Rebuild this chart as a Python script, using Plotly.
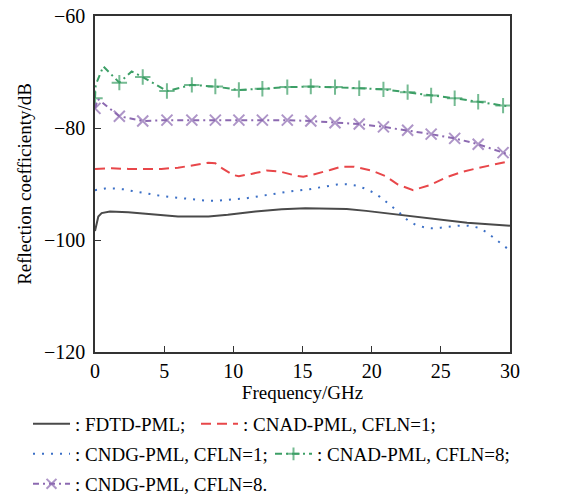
import plotly.graph_objects as go

# ---------------- data ----------------
fdtd_x = [0, 0.07, 0.24, 0.48, 1.08, 2.4, 4.3, 6.0, 8.2, 9.6, 11.6, 13.5, 15.2, 18.2, 19.6, 22.05, 24.5, 26.9, 30]
fdtd_y = [-98.4, -97.6, -95.8, -95.2, -94.9, -95.05, -95.5, -95.8, -95.8, -95.5, -94.9, -94.5, -94.35, -94.45, -94.8, -95.5, -96.3, -96.9, -97.45]

cnad1_x = [0, 1.2, 2.4, 4.8, 6.0, 7.1, 8.2, 8.7, 9.2, 10.0, 10.4, 11.3, 12.4, 13.4, 14.5, 15.06, 15.8, 17.0, 17.8, 18.7, 20.0, 21.0, 21.9, 23.0, 24.2, 25.4, 26.6, 27.6, 28.8, 30]
cnad1_y = [-87.3, -87.2, -87.3, -87.3, -87.1, -86.6, -86.2, -86.3, -87.2, -88.4, -88.6, -88.2, -87.6, -87.8, -88.5, -88.7, -88.3, -87.5, -86.9, -86.9, -87.6, -88.6, -90.1, -91.1, -90.2, -88.8, -87.8, -87.2, -86.5, -85.9]

cndg1_x = [0, 0.72, 1.4, 2.05, 2.7, 3.37, 4.05, 4.7, 5.4, 6.07, 6.75, 7.4, 8.1, 8.77, 9.45, 10.1, 10.8, 11.5, 12.2, 12.85, 13.5, 14.2, 14.9, 15.5, 16.15, 16.9, 17.5, 18.2, 18.9, 19.5, 20.1, 20.6, 21.1, 21.6, 22.2, 22.65, 23.2, 23.9, 24.3, 25.0, 25.7, 26.3, 27.0, 27.7, 28.3, 28.8, 29.3, 29.85]
cndg1_y = [-91.1, -90.8, -90.8, -90.95, -91.25, -91.55, -91.8, -92.1, -92.3, -92.5, -92.7, -92.85, -93.0, -93.0, -92.8, -92.7, -92.6, -92.3, -92.1, -91.8, -91.55, -91.3, -91.15, -90.95, -90.65, -90.3, -90.1, -90.05, -90.3, -90.8, -91.5, -92.3, -93.3, -94.3, -95.5, -96.6, -97.3, -97.8, -97.9, -97.8, -97.6, -97.45, -97.45, -97.8, -98.6, -99.6, -100.6, -101.6]

cnad8_x = [0, 0.05, 0.6, 1.76, 2.65, 3.45, 5.2, 7.0, 8.7, 10.4, 12.1, 13.9, 15.6, 17.35, 19.1, 20.85, 22.6, 24.3, 26.0, 27.7, 29.5, 30]
cnad8_y = [-74.7, -72.3, -69.0, -71.9, -69.9, -70.9, -73.4, -72.3, -72.6, -73.2, -73.0, -72.7, -72.6, -72.7, -72.9, -73.1, -73.6, -74.2, -74.7, -75.3, -76.0, -76.2]
cnad8_marked = [1, 0, 0, 1, 0, 1, 1, 1, 1, 1, 1, 1, 1, 1, 1, 1, 1, 1, 1, 1, 1, 0]

cndg8_x = [0, 0.2, 1.76, 3.45, 5.2, 7.0, 8.7, 10.4, 12.1, 13.9, 15.6, 17.35, 19.1, 20.85, 22.6, 24.3, 26.0, 27.7, 29.5, 30]
cndg8_y = [-76.5, -74.8, -77.9, -78.75, -78.6, -78.6, -78.6, -78.6, -78.6, -78.6, -78.75, -79.05, -79.3, -79.8, -80.4, -81.1, -81.85, -82.9, -84.4, -84.8]
cndg8_marked = [1, 0, 1, 1, 1, 1, 1, 1, 1, 1, 1, 1, 1, 1, 1, 1, 1, 1, 1, 0]

names = [": FDTD-PML;", ": CNAD-PML, CFLN=1;", ": CNDG-PML, CFLN=1;",
         ": CNAD-PML, CFLN=8;", ": CNDG-PML, CFLN=8."]

x_ticks = [0, 5, 10, 15, 20, 25, 30]
y_ticks = [-120, -100, -80, -60]

FONT = "Liberation Serif"
C_BLACK = "#4a4a4a"
C_RED = "#e8474a"
C_BLUE = "#3b6fc6"
C_GREEN = "#3c9f66"
C_PURPLE = "#8c69b1"
MS = 11

fig = go.Figure()

fig.add_trace(go.Scatter(x=fdtd_x, y=fdtd_y, mode="lines", name=names[0],
                         line=dict(color=C_BLACK, width=2),
                         legend="legend"))
fig.add_trace(go.Scatter(x=cnad1_x, y=cnad1_y, mode="lines", name=names[1],
                         line=dict(color=C_RED, width=2, dash="10px,6px"),
                         legend="legend2"))
fig.add_trace(go.Scatter(x=cndg1_x, y=cndg1_y, mode="lines", name=names[2],
                         line=dict(color=C_BLUE, width=2, dash="2px,7px"),
                         legend="legend3"))
fig.add_trace(go.Scatter(x=cnad8_x, y=cnad8_y, mode="lines+markers", name=names[3],
                         line=dict(color=C_GREEN, width=2, dash="7px,4px,2px,4px"),
                         marker=dict(symbol="cross-thin", size=[MS * m for m in cnad8_marked],
                                     color=C_GREEN, line=dict(color=C_GREEN, width=2)),
                         legend="legend4"))
fig.add_trace(go.Scatter(x=cndg8_x, y=cndg8_y, mode="lines+markers", name=names[4],
                         line=dict(color=C_PURPLE, width=2, dash="6px,4px,2px,4px"),
                         marker=dict(symbol="x-thin", size=[MS * m for m in cndg8_marked],
                                     color=C_PURPLE, line=dict(color=C_PURPLE, width=2)),
                         legend="legend5"))

FW, FH = 583, 495
# plot area in px: x 95..510, y 16..352
L, R, T, B = 95, 510, 16, 352
W, H = R - L, B - T

def px_x(p):
    return (p - L) / W

def px_y(p):
    return (B - p) / H

leg_common = dict(orientation="h", xanchor="left", yanchor="middle",
                  bgcolor="rgba(0,0,0,0)", borderwidth=0,
                  font=dict(family=FONT, size=19, color="black"), itemwidth=37)

fig.update_layout(
    width=FW, height=FH,
    margin=dict(l=L, r=FW - R, t=T, b=FH - B, autoexpand=False),
    paper_bgcolor="white", plot_bgcolor="white",
    font=dict(family=FONT, size=19, color="black"),
    showlegend=True,
    legend=dict(x=px_x(28), y=px_y(424), **leg_common),
    legend2=dict(x=px_x(196), y=px_y(424), **leg_common),
    legend3=dict(x=px_x(28), y=px_y(454), **leg_common),
    legend4=dict(x=px_x(270), y=px_y(454), **leg_common),
    legend5=dict(x=px_x(28), y=px_y(484), **leg_common),
)

fig.update_xaxes(range=[0, 30], tickvals=x_ticks, ticktext=[str(v) for v in x_ticks],
                 ticks="inside", ticklen=6, tickwidth=1.2, tickcolor="#333",
                 showline=True, linecolor="#333", linewidth=1.5, mirror=True,
                 showgrid=False, zeroline=False, ticklabeloverflow="allow",
                 tickfont=dict(family=FONT, size=20, color="black"),
                 title=dict(text="Frequency/GHz", standoff=1,
                            font=dict(family=FONT, size=19, color="black")))
fig.update_yaxes(range=[-120, -60], tickvals=y_ticks,
                 ticks="inside", ticklen=6, tickwidth=1.2, tickcolor="#333",
                 showline=True, linecolor="#333", linewidth=1.5, mirror=True,
                 showgrid=False, zeroline=False, ticklabelstandoff=4,
                 ticklabeloverflow="allow",
                 tickfont=dict(family=FONT, size=20, color="black"),
                 title=dict(text="Reflection coefficienty/dB", standoff=7,
                            font=dict(family=FONT, size=19, color="black")))

fig.write_html("out.html", config={"displayModeBar": False},
               post_script="document.body.style.margin='0';")
